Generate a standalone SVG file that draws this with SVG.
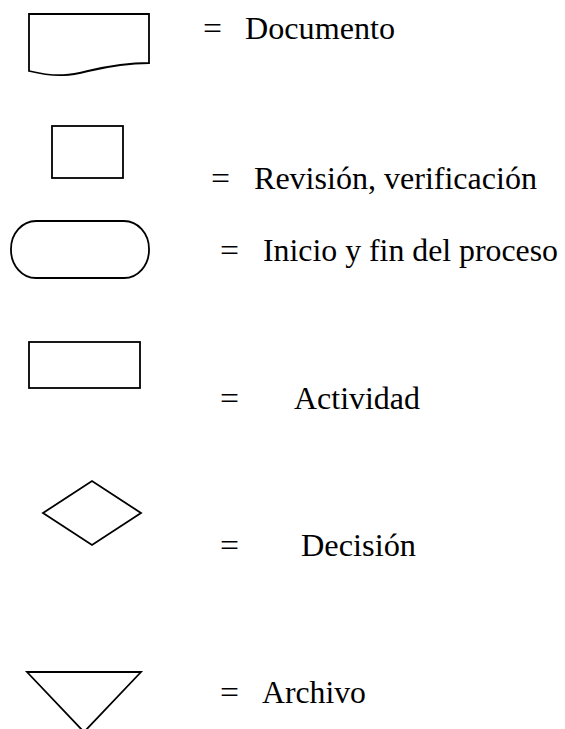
<svg xmlns="http://www.w3.org/2000/svg" width="565" height="729" viewBox="0 0 565 729">
<style>
.s{fill:#fff;stroke:#000;stroke-width:1.8;stroke-linejoin:miter}
text{font-family:'Liberation Serif','Times New Roman',Times,serif;font-size:31px;fill:#000}
</style>
<rect width="565" height="729" fill="#fff"/>
<g id="documento">
<path class="s" d="M29,14 H149 V63 C125,63 105,67 88,71 C72,75 58,78 29,71 Z"/>
<text x="203" y="39" textLength="19" lengthAdjust="spacingAndGlyphs">=</text>
<text x="245" y="39" textLength="150" lengthAdjust="spacingAndGlyphs">Documento</text>
</g>
<g id="revision">
<rect class="s" x="52" y="126" width="71" height="52"/>
<text x="211" y="189" textLength="19" lengthAdjust="spacingAndGlyphs">=</text>
<text x="254" y="189" textLength="283" lengthAdjust="spacingAndGlyphs">Revisión, verificación</text>
</g>
<g id="inicio">
<rect class="s" x="11" y="221" width="138" height="57" rx="25" ry="28"/>
<text x="220" y="261" textLength="19" lengthAdjust="spacingAndGlyphs">=</text>
<text x="263" y="261" textLength="295" lengthAdjust="spacingAndGlyphs">Inicio y fin del proceso</text>
</g>
<g id="actividad">
<rect class="s" x="29" y="342" width="111" height="46"/>
<text x="220" y="409" textLength="19" lengthAdjust="spacingAndGlyphs">=</text>
<text x="294" y="409" textLength="126" lengthAdjust="spacingAndGlyphs">Actividad</text>
</g>
<g id="decision">
<polygon class="s" points="43,513 92,481 141,513 92,545"/>
<text x="220" y="556" textLength="19" lengthAdjust="spacingAndGlyphs">=</text>
<text x="301" y="556" textLength="115" lengthAdjust="spacingAndGlyphs">Decisión</text>
</g>
<g id="archivo">
<polygon class="s" points="27,672 141,672 84,732"/>
<text x="220" y="703" textLength="19" lengthAdjust="spacingAndGlyphs">=</text>
<text x="262" y="703" textLength="104" lengthAdjust="spacingAndGlyphs">Archivo</text>
</g>
<g id="connectors"/>
</svg>
